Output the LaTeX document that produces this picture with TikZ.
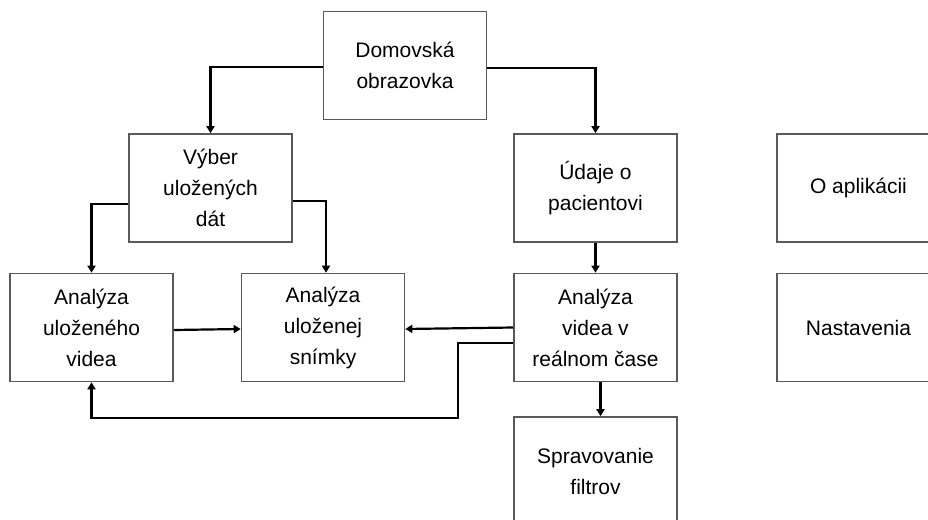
\documentclass[tikz,border=0pt]{standalone}
\usepackage{fontspec}
\setmainfont{Liberation Sans}
\usetikzlibrary{arrows.meta}
\begin{document}
\begin{tikzpicture}[x=1pt,y=-1pt,
  box/.style={draw=black!65,line width=1.6pt,minimum width=163pt,minimum height=108pt,
    align=center,inner sep=0pt,font=\fontsize{21}{31}\selectfont},
  link/.style={line width=2.2pt,-{Triangle[length=7pt,width=8pt]}}]
\useasboundingbox (0,0) rectangle (928,519);
\clip (0,0) rectangle (928,519);
\node[box] (dom) at (405,65.5) {Domovská\\obrazovka};
\node[box] (vyb) at (210.5,188) {Výber\\uložených\\dát};
\node[box] (uda) at (595.5,188) {Údaje o\\pacientovi};
\node[box] (oap) at (858.5,188) {O aplikácii};
\node[box] (auv) at (91.5,327.5) {Analýza\\uloženého\\videa};
\node[box] (aus) at (323,327.5) {Analýza\\uloženej\\snímky};
\node[box] (avr) at (595.5,327.5) {Analýza\\videa v\\reálnom čase};
\node[box] (nas) at (858.5,327.5) {Nastavenia};
\node[box] (spr) at (595.5,471) {Spravovanie\\filtrov};
\coordinate (loopA) at (458,343);
\coordinate (loopB) at (458,418);
\draw[link] ([yshift=-1.5pt]dom.west) -| (vyb.north);
\draw[link] ([yshift=-2.5pt]dom.east) -| (uda.north);
\draw[link] ([yshift=-16pt]vyb.west) -| (auv.north);
\draw[link] ([yshift=-13pt]vyb.east) -| ([xshift=3pt]aus.north);
\draw[link] (uda.south) -- (avr.north);
\draw[link] ([yshift=-2.5pt]auv.east) -- ([yshift=-1.5pt]aus.west);
\draw[link] (avr.west) -- ([yshift=-1.5pt]aus.east);
\draw[link] ([yshift=-15.5pt]avr.west) -- (loopA) -- (loopB) -| (auv.south);
\draw[link] ([xshift=5pt]avr.south) -- ([xshift=5pt]spr.north);
\end{tikzpicture}
\end{document}
